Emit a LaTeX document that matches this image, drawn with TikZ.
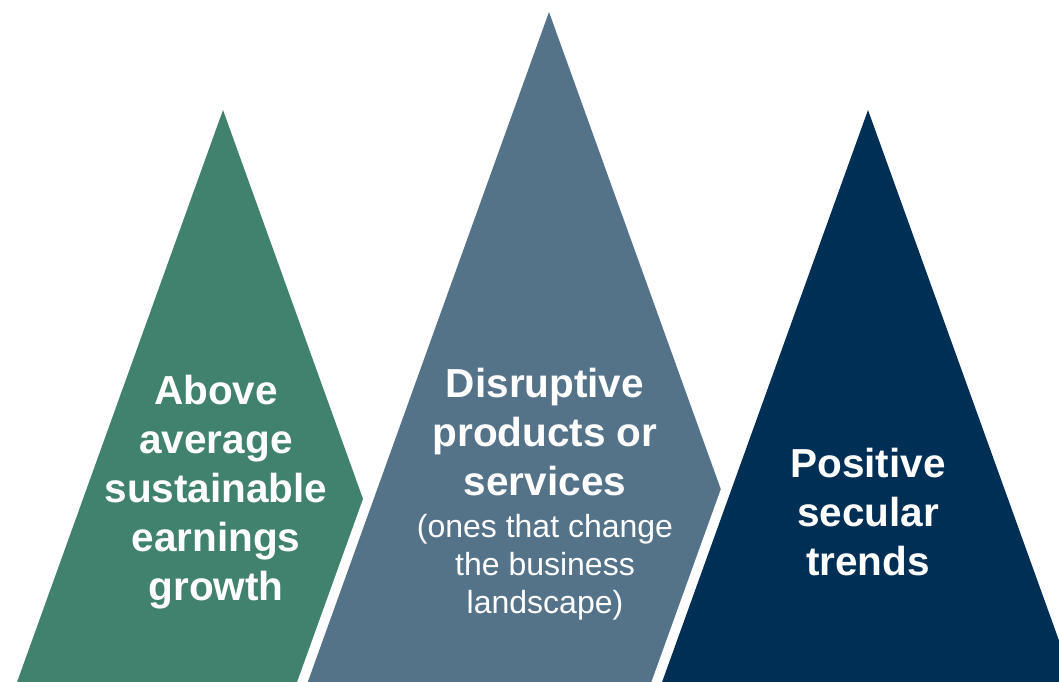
\documentclass[tikz,border=0pt]{standalone}
\usepackage{fontspec}
\setmainfont{Liberation Sans}
\usepackage{tikz}

\definecolor{peakgreen}{RGB}{65,130,111}
\definecolor{peakslate}{RGB}{85,115,136}
\definecolor{peaknavy}{RGB}{0,47,86}

\begin{document}
\begin{tikzpicture}[x=1pt,y=-1pt,
			peak/.style={preaction={draw=white,line width=20pt,line join=miter}},
			big label/.style={text=white,align=center,anchor=base,inner sep=0pt,
				font=\fontsize{40.5}{48.8}\selectfont\bfseries},
			small label/.style={text=white,align=center,anchor=base,inner sep=0pt,
				font=\fontsize{32}{38}\selectfont}
			]
			
			\def \k {0.36};
			\def \b {700};
			
			\clip (0,0) rectangle (1059,681);
			\fill[white] (0,0) rectangle (1059,681);
			
			% three peaks, later ones on top
			\foreach \x/\y/\c in {223/110/peakgreen, 549/12/peakslate, 868/110/peaknavy} {
				\fill[peak,\c] (\x,\y) -- ({\x-\k*(\b-\y)},\b) -- ({\x+\k*(\b-\y)},\b) -- cycle;
			}
			
			% base anchor sits on the last line
			\node[big label] (growth) at (216,600) {Above\\average\\sustainable\\earnings\\growth};
			\node[big label] (disrupt) at (545,495) {Disruptive\\products or\\services};
			\node[small label] (disruptnote) at (545,613) {(ones that change\\the business\\landscape)};
			\node[big label] (secular) at (868,575) {Positive\\secular\\trends};
			\end{tikzpicture}
\end{document}
